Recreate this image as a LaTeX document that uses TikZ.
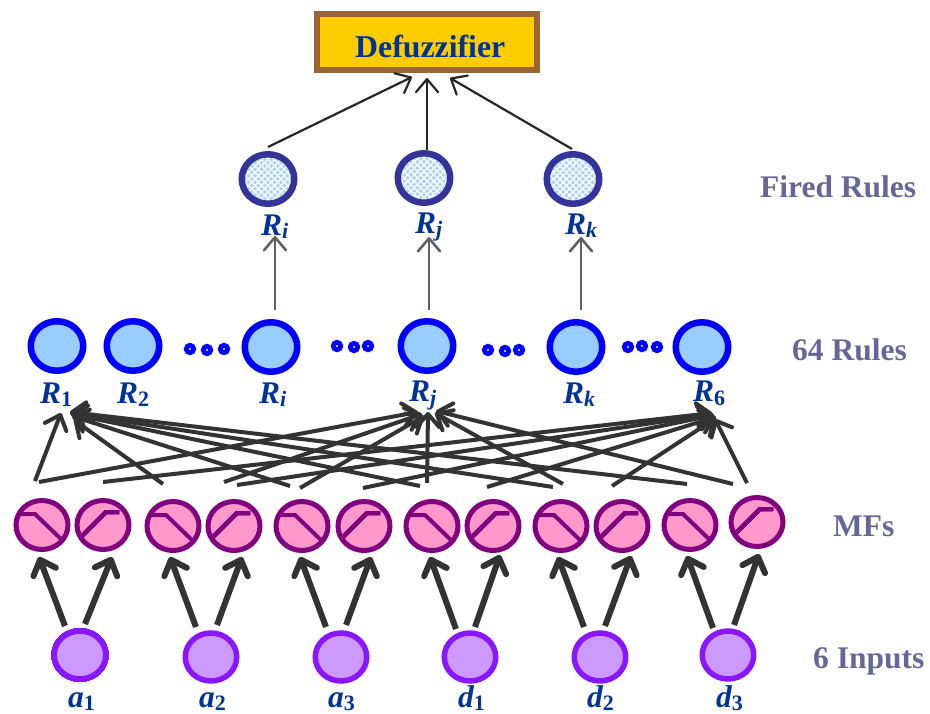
\documentclass[tikz,border=0pt]{standalone}
\usepackage{fontspec}
\setmainfont{Liberation Serif}
\usetikzlibrary{arrows.meta,shapes.geometric}
\definecolor{txtblue}{HTML}{003399}
\definecolor{sidec}{HTML}{666699}
\definecolor{linec}{HTML}{333333}
\definecolor{mfc}{HTML}{800080}
\definecolor{mff}{HTML}{FF99CC}
\definecolor{inc}{HTML}{8A16FF}
\definecolor{inf}{HTML}{CC99FF}
\definecolor{firedc}{HTML}{333399}
\definecolor{firedf}{HTML}{ABD4FF}
\definecolor{rulef}{HTML}{99CCFF}
\definecolor{defc}{HTML}{996633}
\definecolor{deff}{HTML}{FFCC00}
\tikzset{
  x=1pt,y=-1pt,
  ovalnode/.style={ellipse,inner sep=0pt,outer sep=0pt},
  inputnode/.style={ovalnode,draw=inc,fill=inf,line width=5.5pt,minimum width=51.5pt,minimum height=48pt},
  mfnode/.style={ovalnode,draw=mfc,fill=mff,line width=5pt,minimum width=52pt,minimum height=49pt},
  rulenode/.style={ovalnode,draw=blue,fill=rulef,line width=6.5pt,minimum width=52.5pt,minimum height=49.5pt},
  firednode/.style={ovalnode,draw=firedc,fill=firedf,line width=6.5pt,minimum width=52.5pt,minimum height=49.5pt,
     path picture={
       \foreach \k in {-10,...,10}{
         \draw[white,line width=1.1pt] ([shift={(\k*6.5-40,-40)}]path picture bounding box.center) -- ++(80,80);
         \draw[white,line width=1.1pt] ([shift={(\k*6.5+40,-40)}]path picture bounding box.center) -- ++(-80,80);
       }}},
  smalldot/.style={circle,inner sep=0pt,draw=blue,fill=rulef,line width=4.6pt,minimum size=7.6pt},
  defbox/.style={draw=defc,fill=deff,line width=6.5pt,minimum width=220pt,minimum height=56pt,inner sep=0pt},
  lab/.style={anchor=base west,inner sep=0pt,text=txtblue,font=\fontsize{31.5}{32}\selectfont\bfseries\itshape},
  sidelab/.style={anchor=base west,inner sep=0pt,text=sidec,font=\fontsize{31.5}{32}\selectfont\bfseries},
  toparrow/.style={draw=black!85,line width=2.2pt,-{Straight Barb[length=13pt,width=22pt,round]}},
  midarrow/.style={draw=black!62,line width=2.6pt,-{Straight Barb[length=13pt,width=22pt,round]}},
  clusterarrow/.style={draw=linec,line width=4pt,-{Straight Barb[length=13pt,width=23pt,round]}},
  inarrow/.style={draw=linec,line width=6pt,-{Straight Barb[length=13pt,width=24pt,round]}},
  curve/.style={draw=mfc,line width=4pt},
}
\newcommand{\sublab}[2]{#1\smash{\raisebox{-3pt}{\fontsize{22}{24}\selectfont #2}}}
\newcommand{\lnk}[6]{\draw[clusterarrow] ([shift={(#2,#3)}]#1.center) -- ([shift={(#5,#6)}]#4.center);}
\newcommand{\falling}[1]{\draw[curve] ([shift={(-22,-11)}]#1.center) -- ([shift={(-7,-11)}]#1.center) -- ([shift={(20,15)}]#1.center);}
\newcommand{\rising}[1]{\draw[curve] ([shift={(-22,12)}]#1.center) -- ([shift={(3,-13)}]#1.center) -- ([shift={(16,-13)}]#1.center);}
\begin{document}
\begin{tikzpicture}
\useasboundingbox (0,0) rectangle (930,714);
% defuzzifier
\node[defbox] (def) at (427,42) {};
\node[anchor=base west,inner sep=0pt,text=txtblue,font=\fontsize{31.8}{32}\selectfont\bfseries] (deftxt) at (355,58) {De{f}uzzi{f}ier};
% fired rules
\node[firednode] (fi) at (268,179) {};
\node[firednode] (fj) at (424,178) {};
\node[firednode] (fk) at (573,179) {};
% rules
\node[rulenode] (r1) at (57,346) {};
\node[rulenode] (r2) at (133,346) {};
\node[rulenode] (ri) at (271,347) {};
\node[rulenode] (rj) at (427,346) {};
\node[rulenode] (rk) at (576,347) {};
\node[rulenode] (r6) at (702,347) {};
% dots
\node[smalldot] (d11) at (190,349) {};
\node[smalldot] (d12) at (207,350) {};
\node[smalldot] (d13) at (224,349) {};
\node[smalldot] (d21) at (337,346) {};
\node[smalldot] (d22) at (354,347) {};
\node[smalldot] (d23) at (368,346) {};
\node[smalldot] (d31) at (488,350) {};
\node[smalldot] (d32) at (505,351) {};
\node[smalldot] (d33) at (519,350) {};
\node[smalldot] (d41) at (628,347) {};
\node[smalldot] (d42) at (642,346) {};
\node[smalldot] (d43) at (657,347) {};
% MFs
\foreach \n/\x/\y in {m1/42/525,m2/103/525,m3/173/526,m4/234/526,m5/302/526,m6/364/526,m7/432/526,m8/493/526,m9/561/526,m10/622/526,m11/690/525,m12/757/522}
  \node[mfnode] (\n) at (\x,\y) {};
\foreach \n in {m1,m3,m5,m7,m9,m11} \falling{\n}
\foreach \n in {m2,m4,m6,m8,m10,m12} \rising{\n}
% inputs
\node[inputnode] (a1) at (80,655) {};
\node[inputnode] (a2) at (211,657) {};
\node[inputnode] (a3) at (341,657) {};
\node[inputnode] (b1) at (470,657) {};
\node[inputnode] (b2) at (600,657) {};
\node[inputnode] (b3) at (728,655) {};
% labels
\node[lab] (l1) at (40,403) {\sublab{R}{\textup{1}}};
\node[lab] (l2) at (117,403) {\sublab{R}{\textup{2}}};
\node[lab] (l3) at (259,403) {\sublab{R}{i}};
\node[lab] (l4) at (409,402) {\sublab{R}{j}};
\node[lab] (l5) at (563,403) {\sublab{R}{k}};
\node[lab] (l6) at (693,402) {\sublab{R}{\textup{6}}};
\node[lab] (t1) at (261,236) {\sublab{R}{i}};
\node[lab] (t2) at (415,234) {\sublab{R}{j}};
\node[lab] (t3) at (565,235) {\sublab{R}{k}};
\node[lab] (i1) at (68,707) {\sublab{a}{\textup{1}}};
\node[lab] (i2) at (199,707) {\sublab{a}{\textup{2}}};
\node[lab] (i3) at (328,707) {\sublab{a}{\textup{3}}};
\node[lab] (i4) at (458,707) {\sublab{d}{\textup{1}}};
\node[lab] (i5) at (587,707) {\sublab{d}{\textup{2}}};
\node[lab] (i6) at (716,707) {\sublab{d}{\textup{3}}};
\node[sidelab] (s1) at (760,198) {Fired Rules};
\node[sidelab] (s2) at (792,361) {64 Rules};
\node[sidelab] (s3) at (833,536) {MFs};
\node[sidelab] (s4) at (813,668) {6 Inputs};
% top connectors
\draw[toparrow] ([shift={(0,-32)}]fi.center) -- ([shift={(-15,35)}]def.center);
\draw[toparrow] ([shift={(3,-28)}]fj.center) -- ([shift={(0,36)}]def.center);
\draw[toparrow] ([shift={(-1,-30)}]fk.center) -- ([shift={(23,36)}]def.center);
% middle connectors
\draw[midarrow] ([shift={(4,-37)}]ri.center) -- ([shift={(7,57)}]fi.center);
\draw[midarrow] ([shift={(2,-36)}]rj.center) -- ([shift={(5,59)}]fj.center);
\draw[midarrow] ([shift={(5,-37)}]rk.center) -- ([shift={(8,58)}]fk.center);
% cluster
\lnk{m1}{-7}{-44}{r1}{4}{67}
\lnk{m3}{-10}{-42}{r1}{17}{74}
\lnk{m5}{-12}{-40}{r1}{15}{70}
\lnk{m7}{-12}{-40}{r1}{14}{68}
\lnk{m9}{-8}{-39}{r1}{13}{67}
\lnk{m11}{-3}{-41}{r1}{13}{66}
\lnk{m1}{-3}{-43}{rj}{-9}{66}
\lnk{m4}{-10}{-44}{rj}{-5}{68}
\lnk{m5}{-2}{-38}{rj}{-3}{70}
\lnk{m7}{-5}{-43}{rj}{1}{66}
\lnk{m9}{2}{-42}{rj}{8}{67}
\lnk{m12}{-24}{-38}{rj}{9}{65}
\lnk{m2}{0}{-43}{r6}{10}{66}
\lnk{m4}{3}{-41}{r6}{11}{67}
\lnk{m6}{-1}{-38}{r6}{12}{68}
\lnk{m8}{-6}{-39}{r6}{14}{70}
\lnk{m10}{-10}{-40}{r6}{14}{71}
\lnk{m12}{-10}{-39}{r6}{13}{72}
% input connectors
\draw[inarrow] ([shift={(-15,-29)}]a1.center) -- ([shift={(-3,32)}]m1.center);
\draw[inarrow] ([shift={(5,-31)}]a1.center) -- ([shift={(9,32)}]m2.center);
\draw[inarrow] ([shift={(-15,-30)}]a2.center) -- ([shift={(-3,31)}]m3.center);
\draw[inarrow] ([shift={(6,-32)}]a2.center) -- ([shift={(8,31)}]m4.center);
\draw[inarrow] ([shift={(-15,-30)}]a3.center) -- ([shift={(-2,31)}]m5.center);
\draw[inarrow] ([shift={(5,-32)}]a3.center) -- ([shift={(7,31)}]m6.center);
\draw[inarrow] ([shift={(-14,-28)}]b1.center) -- ([shift={(-2,31)}]m7.center);
\draw[inarrow] ([shift={(5,-30)}]b1.center) -- ([shift={(7,29)}]m8.center);
\draw[inarrow] ([shift={(-16,-30)}]b2.center) -- ([shift={(-3,31)}]m9.center);
\draw[inarrow] ([shift={(5,-31)}]b2.center) -- ([shift={(9,30)}]m10.center);
\draw[inarrow] ([shift={(-15,-27)}]b3.center) -- ([shift={(-3,31)}]m11.center);
\draw[inarrow] ([shift={(6,-30)}]b3.center) -- ([shift={(2,32)}]m12.center);
\end{tikzpicture}
\end{document}
